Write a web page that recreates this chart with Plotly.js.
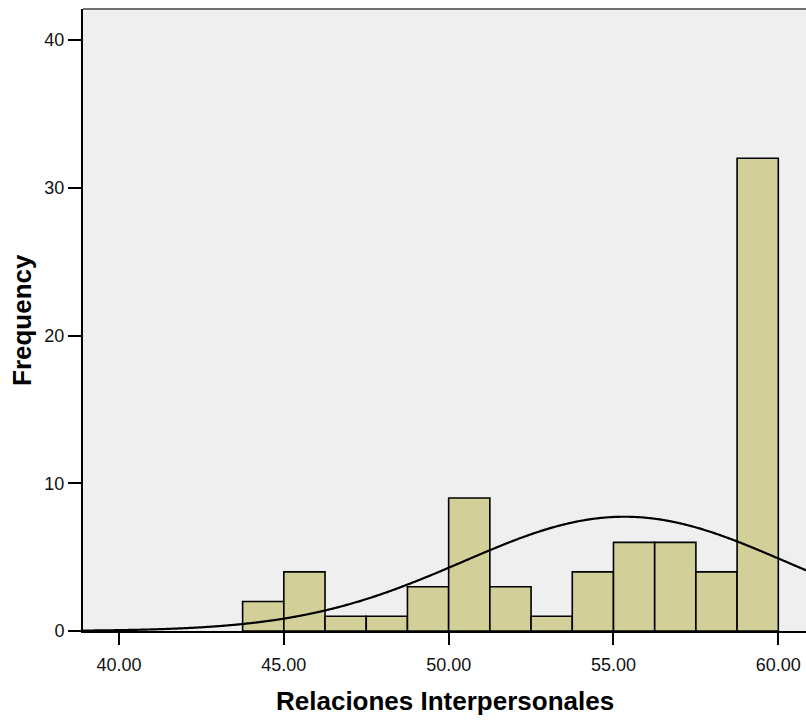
<!DOCTYPE html>
<html>
<head>
<meta charset="utf-8">
<script src="https://cdn.plot.ly/plotly-3.0.1.min.js"></script>
<style>
  html, body { margin: 0; padding: 0; background: #ffffff; }
  #chart { width: 806px; height: 721px; }
</style>
</head>
<body>
<div id="chart"></div>
<script>
// Histogram bins for "Relaciones Interpersonales" (bin width 1.25)
const binStarts = [43.75, 45.00, 46.25, 47.50, 48.75, 50.00, 51.25, 52.50, 53.75, 55.00, 56.25, 57.50, 58.75];
const binWidth = 1.25;
const frequencies = [2, 4, 1, 1, 3, 9, 3, 1, 4, 6, 6, 4, 32];

// Fitted normal curve parameters
const normalMean = 55.33;
const normalSd = 4.9;
const totalN = frequencies.reduce((a, b) => a + b, 0);

// Axis ticks
const xTickVals = [40, 45, 50, 55, 60];
const xTickText = ['40.00', '45.00', '50.00', '55.00', '60.00'];
const yTickVals = [0, 10, 20, 30, 40];

const xRange = [38.908, 60.84];
const yRange = [0, 42.1];

const binCenters = binStarts.map(s => s + binWidth / 2);

// Normal density scaled to counts per bin
const curveX = [];
const curveY = [];
for (let x = xRange[0]; x <= xRange[1] + 0.05; x += 0.05) {
  const z = (x - normalMean) / normalSd;
  curveX.push(x);
  curveY.push(totalN * binWidth * Math.exp(-0.5 * z * z) / (normalSd * Math.sqrt(2 * Math.PI)));
}

const bars = {
  type: 'bar',
  x: binCenters,
  y: frequencies,
  width: binWidth,
  marker: { color: '#d3cf98', line: { color: '#000000', width: 1.6 } },
  hoverinfo: 'x+y'
};

const curve = {
  type: 'scatter',
  mode: 'lines',
  x: curveX,
  y: curveY,
  line: { color: '#000000', width: 2.2, shape: 'spline' },
  hoverinfo: 'skip'
};

const font = 'Arial, "Liberation Sans", sans-serif';

const layout = {
  width: 806,
  height: 721,
  margin: { l: 83, r: 0, t: 9, b: 90 },
  paper_bgcolor: '#ffffff',
  plot_bgcolor: '#efefef',
  showlegend: false,
  bargap: 0,
  font: { family: font, color: '#000000', size: 18 },
  xaxis: {
    range: xRange,
    tickvals: xTickVals,
    ticktext: xTickText,
    ticks: 'outside',
    ticklen: 12,
    tickwidth: 2,
    tickcolor: '#000000',
    ticklabelstandoff: 4,
    showline: true,
    linecolor: '#000000',
    linewidth: 2,
    showgrid: false,
    zeroline: false,
    tickfont: { family: font, size: 18, color: '#111111' }
  },
  yaxis: {
    range: yRange,
    tickvals: yTickVals,
    ticks: 'outside',
    ticklen: 13,
    tickwidth: 2,
    tickcolor: '#000000',
    showline: true,
    linecolor: '#000000',
    linewidth: 2,
    showgrid: false,
    zeroline: false,
    tickfont: { family: font, size: 18, color: '#111111' }
  },
  shapes: [
    { type: 'line', xref: 'paper', yref: 'paper', x0: 0, x1: 1, y0: 1, y1: 1,
      line: { color: '#444444', width: 1.5 } }
  ],
  annotations: [
    { text: '<b>Relaciones Interpersonales</b>', xref: 'paper', yref: 'paper',
      x: 0.5, y: 0, yshift: -70, showarrow: false,
      xanchor: 'center', yanchor: 'middle',
      font: { family: font, size: 26, color: '#000000' } },
    { text: '<b>Frequency</b>', xref: 'paper', yref: 'paper',
      x: 0, xshift: -61, y: 0.5, showarrow: false, textangle: -90,
      xanchor: 'center', yanchor: 'middle',
      font: { family: font, size: 26, color: '#000000' } }
  ]
};

Plotly.newPlot('chart', [bars, curve], layout, { displayModeBar: false, staticPlot: true });
</script>
</body>
</html>
